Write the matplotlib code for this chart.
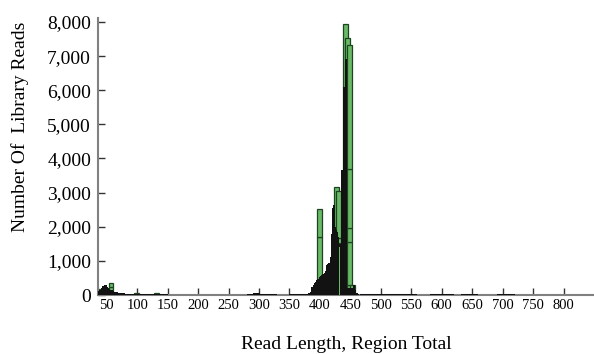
import numpy as np
import matplotlib
matplotlib.use("Agg")
import matplotlib.pyplot as plt

# stacked green bars (region totals), one entry per bar, layers stacked bottom-up
green_x = [40, 57, 99, 132, 399, 427, 430, 433, 442, 446, 449, 454]
green_layer1 = [165, 240, 60, 60, 330, 1610, 1660, 1320, 7950, 7540, 90, 150]
green_layer2 = [0, 100, 0, 0, 150, 250, 1400, 210, 0, 0, 200, 140]
green_layer3 = [0, 0, 0, 0, 1230, 1300, 0, 0, 0, 0, 1260, 0]
green_layer4 = [0, 0, 0, 0, 820, 0, 0, 0, 0, 0, 410, 0]
green_layer5 = [0, 0, 0, 0, 0, 0, 0, 0, 0, 0, 1720, 0]
green_layer6 = [0, 0, 0, 0, 0, 0, 0, 0, 0, 0, 3640, 0]

# thin green bars showing through the black histogram
green_line_x = [415, 432]
green_line_y = [930, 1420]

# black histogram: bin start, count (last bin ends at black_end)
black_start = [36, 38, 40, 42, 44, 46, 48, 50, 52, 54, 56, 58, 60, 62, 64, 68, 72, 80, 90,
               100, 110, 130, 150, 220, 280, 290, 296, 300, 302, 310, 330, 350, 370, 380,
               384, 386, 388, 390, 392, 394, 396, 398, 400, 402, 404, 406, 408, 410, 412,
               414, 416, 418, 420, 422, 424, 426, 428, 430, 432, 434, 436, 438, 440, 442,
               445, 454, 456, 458, 460, 462, 464, 466, 560, 580, 620, 632, 660, 690, 720,
               732]
black_counts = [120, 150, 200, 250, 270, 290, 280, 240, 200, 180, 160, 140, 120, 100, 80,
                60, 50, 40, 35, 30, 25, 20, 12, 0, 40, 50, 60, 50, 40, 20, 0, 20, 40, 70,
                100, 245, 300, 350, 390, 430, 480, 520, 560, 600, 630, 650, 700, 880, 920,
                930, 1100, 1800, 2550, 2640, 2000, 1900, 1850, 1700, 1500, 3660, 3660, 6100,
                6100, 6930, 200, 290, 280, 150, 60, 30, 0, 20, 0, 20, 0, 20, 0, 20, 0]
black_end = 850

x_ticks = list(range(50, 801, 50))
y_ticks = list(range(0, 8001, 1000))

serif = ["Liberation Serif", "DejaVu Serif"]
green = "#69b966"
green_edge = "#1d4420"

fig = plt.figure(figsize=(5.94, 3.54), dpi=100)
ax = fig.add_axes([98 / 594, 59 / 354, 496 / 594, 277 / 354])

layers = [green_layer1, green_layer2, green_layer3, green_layer4, green_layer5, green_layer6]
for i, x in enumerate(green_x):
    bottom = 0
    for layer in layers:
        h = layer[i]
        if h > 0:
            ax.bar(x, h, width=8, bottom=bottom, color=green, edgecolor=green_edge,
                   linewidth=0.9, zorder=2)
            bottom += h

n = min(len(black_start), len(black_counts))
edges = black_start[:n] + [black_end]
ax.stairs(black_counts[:n], edges, fill=True, color="#121212", zorder=3)
ax.bar(green_line_x, green_line_y, width=0.9, color=green, linewidth=0, zorder=4)

ax.set_xlim(35.7, 850)
ax.set_ylim(0, 8117)
ax.set_xticks(x_ticks)
ax.set_xticklabels([str(t) for t in x_ticks], fontfamily=serif, fontsize=10.5)
ax.set_yticks(y_ticks)
ax.set_yticklabels([f"{t:,}" for t in y_ticks], fontfamily=serif, fontsize=14)
ax.tick_params(axis="x", direction="in", length=5, width=1, color="#333333", pad=3)
ax.tick_params(axis="y", direction="in", length=5, width=1, color="#333333", pad=5)

for side in ["top", "right"]:
    ax.spines[side].set_visible(False)
for side in ["left", "bottom"]:
    ax.spines[side].set_color("#808080")
    ax.spines[side].set_linewidth(1.5)

ax.set_ylabel("Number Of  Library Reads", fontfamily=serif, fontsize=14, va="center", ha="center")
ax.yaxis.set_label_coords(-0.157, 0.607)
ax.set_xlabel("Read Length, Region Total", fontfamily=serif, fontsize=14, va="center", ha="center")
ax.xaxis.set_label_coords(0.501, -0.18)

fig.savefig("out.png", dpi=100)
plt.close(fig)
